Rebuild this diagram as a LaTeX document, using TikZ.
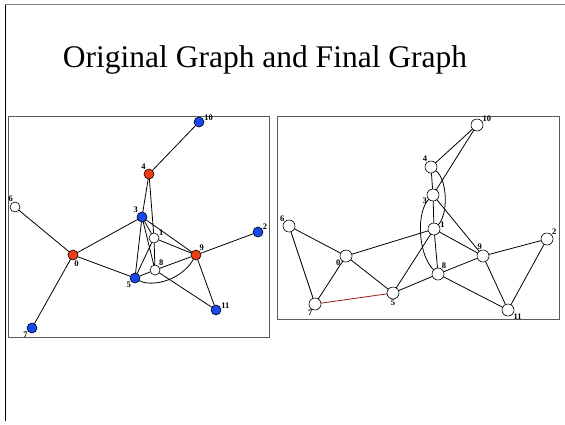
\documentclass[tikz,border=0pt]{standalone}
\usepackage{fontspec}
\setmainfont{Liberation Serif}
\usepackage{tikz}
\usetikzlibrary{backgrounds}
\definecolor{pdfcolor1}{RGB}{128,128,128}
\definecolor{pdfcolor2}{RGB}{90,90,90}
\definecolor{nodered}{RGB}{238,62,22}
\definecolor{nodeblue}{RGB}{22,72,238}
\definecolor{edgered}{RGB}{150,30,10}
\tikzset{
  vtx/.style={circle,draw=black,line width=0.6bp,minimum size=10bp,inner sep=0pt,fill=white},
  rvtx/.style={vtx,fill=nodered},
  bvtx/.style={vtx,fill=nodeblue},
  wvtx/.style={vtx,minimum size=12bp},
  lbl/.style={font=\fontsize{8.5bp}{9bp}\selectfont\bfseries,inner sep=0.5bp,label distance=0bp},
  edge/.style={line width=0.8bp,draw=black}
}

\begin{document}
\begin{tikzpicture}[x=1bp,y=-1bp,inner sep=0pt,outer sep=0pt]
  \useasboundingbox (0,0) rectangle (565,424);
  % slide frame
  \draw[pdfcolor1,line width=1.8bp] (5,4.5) -- (565,4.5);
  \draw[black,line width=1.6bp] (5.5,4.5) -- (5.5,421);
  \node[anchor=center] (title) at (265,60) {{\fontsize{31.5bp}{36bp}\selectfont Original Graph and Final Graph}};
  % panels
  \draw[pdfcolor2,line width=0.9bp] (8,116) rectangle (269,337);
  \draw[pdfcolor2,line width=0.9bp] (277,116) rectangle (559,319);

  % original graph
  \node[bvtx,label={[lbl]5:10}] (a10) at (199,122) {};
  \node[rvtx,label={[lbl]125:4}] (a4) at (149,174) {};
  \node[vtx,label={[lbl]110:6}] (a6) at (15,207) {};
  \node[bvtx,label={[lbl]135:3}] (a3) at (142,217) {};
  \node[vtx,label={[lbl]20:1}] (a1) at (154,238) {};
  \node[bvtx,label={[lbl]30:2}] (a2) at (258,232) {};
  \node[rvtx,label={[lbl]-80:0}] (a0) at (73,255) {};
  \node[rvtx,label={[lbl]50:9}] (a9) at (196,255) {};
  \node[vtx,label={[lbl]45:8}] (a8) at (155,270) {};
  \node[bvtx,label={[lbl]225:5}] (a5) at (135,278) {};
  \node[bvtx,label={[lbl]10:11}] (a11) at (216,310) {};
  \node[bvtx,label={[lbl]220:7}] (a7) at (32,328) {};
  \begin{pgfonlayer}{background}
  \draw[edge] (a10) -- (a4) (a4) -- (a3) (a4) -- (a1) (a1) -- (a8)
    (a6) -- (a0) (a0) -- (a3) (a0) -- (a5) (a0) -- (a7)
    (a3) -- (a1) (a3) -- (a9) (a3) -- (a5) (a3) -- (a8)
    (a1) -- (a9) (a1) -- (a5) (a5) -- (a8) (a8) -- (a9)
    (a8) -- (a11) (a9) -- (a2) (a9) -- (a11);
  \draw[edge] (a5) .. controls (150,287) and (180,282) .. (a9);
  \end{pgfonlayer}

  % final graph
  \node[wvtx,label={[lbl]30:10}] (b10) at (477,125) {};
  \node[wvtx,label={[lbl]125:4}] (b4) at (431,167) {};
  \node[wvtx,label={[lbl]200:3}] (b3) at (433,195) {};
  \node[wvtx,label={[lbl]135:6}] (b6) at (289,226) {};
  \node[wvtx,label={[lbl]5:1}] (b1) at (434,229) {};
  \node[wvtx,label={[lbl]40:2}] (b2) at (547,239) {};
  \node[wvtx,label={[lbl]210:0}] (b0) at (346,256) {};
  \node[wvtx,label={[lbl]95:9}] (b9) at (483,256) {};
  \node[wvtx,label={[lbl]55:8}] (b8) at (438,274) {};
  \node[wvtx,label={[lbl]-90:5}] (b5) at (393,293) {};
  \node[wvtx,label={[lbl]-110:7}] (b7) at (315,304) {};
  \node[wvtx,label={[lbl]-30:11}] (b11) at (508,310) {};
  \begin{pgfonlayer}{background}
  \draw[edge] (b10) -- (b4) (b10) -- (b3) (b4) -- (b3) (b3) -- (b1)
    (b3) -- (b9) (b1) -- (b8) (b1) -- (b9) (b1) -- (b0) (b1) -- (b5)
    (b6) -- (b0) (b6) -- (b7) (b0) -- (b7) (b0) -- (b5) (b5) -- (b8)
    (b8) -- (b9) (b8) -- (b11) (b9) -- (b2) (b9) -- (b11) (b2) -- (b11);
  \draw[edge,edgered] (b7) -- (b5);
  \draw[edge] (b4) .. controls (448,180) and (448,215) .. (b1);
  \draw[edge] (b3) .. controls (416,212) and (418,255) .. (b8);
  \end{pgfonlayer}
\end{tikzpicture}
\end{document}
